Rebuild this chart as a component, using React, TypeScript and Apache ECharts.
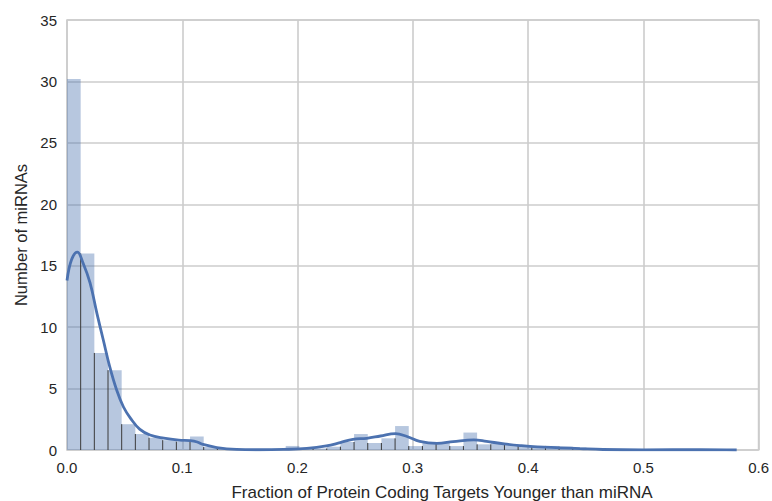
import React, { useEffect, useRef } from "react";
import * as echarts from "echarts";

// Histogram (bin width in data units, heights per bin, starting at 0)
const binWidth = 0.01186;
const binHeights = [
  30.2, 16.0, 7.9, 6.5, 2.1, 1.3, 1.0, 0.8, 0.68, 1.1,
  0.24, 0.14, 0.08, 0, 0, 0, 0.33, 0.12, 0.12, 0.27,
  0.65, 1.3, 0.57, 0.95, 1.95, 0.32, 0.6, 0.6, 0.32, 1.42,
  0.46, 0.6, 0.45, 0.35, 0.33, 0.33, 0.27, 0.22, 0, 0,
  0, 0, 0, 0, 0, 0, 0.06, 0,
];

// KDE curve
const kdeX = [
  0, 0.004, 0.009, 0.014, 0.02, 0.026, 0.0315, 0.037, 0.043, 0.049,
  0.055, 0.063, 0.072, 0.084, 0.097, 0.107, 0.113, 0.118, 0.13, 0.147,
  0.167, 0.188, 0.208, 0.225, 0.237, 0.248, 0.26, 0.272, 0.285, 0.295,
  0.306, 0.321, 0.335, 0.353, 0.364, 0.379, 0.393, 0.408, 0.428, 0.445,
  0.465, 0.5, 0.55, 0.581,
];
const kdeY = [
  13.8, 15.5, 16.1, 15.2, 13.6, 11.1, 8.95, 6.8, 4.9, 3.5,
  2.6, 1.7, 1.22, 0.97, 0.81, 0.76, 0.65, 0.45, 0.2, 0.05,
  0.02, 0.05, 0.13, 0.33, 0.6, 0.87, 0.95, 1.14, 1.33, 1.1,
  0.7, 0.54, 0.68, 0.83, 0.7, 0.5, 0.36, 0.25, 0.18, 0.11,
  0.04, 0.01, 0.03, 0.0,
];

const xTicks = ["0.0", "0.1", "0.2", "0.3", "0.4", "0.5", "0.6"];
const yTicks = ["0", "5", "10", "15", "20", "25", "30", "35"];
const xTitle = "Fraction of Protein Coding Targets Younger than miRNA";
const yTitle = "Number of miRNAs";

const FONT = "'Liberation Sans', Arial, sans-serif";
const BLUE = "#4C72B0";
const TEXT = "#262626";

export default function App() {
  const ref = useRef<HTMLDivElement>(null);
  useEffect(() => {
    if (!ref.current) return;
    const chart = echarts.init(ref.current, null, { renderer: "svg" });
    const histData = binHeights.map((h, i) => [
      i * binWidth,
      (i + 1) * binWidth,
      h,
      i > 0 ? Math.min(h, binHeights[i - 1]) : 0,
    ]);
    chart.setOption({
      animation: false,
      backgroundColor: "#ffffff",
      textStyle: { fontFamily: FONT },
      grid: {
        left: 67,
        right: 12,
        top: 20,
        bottom: 51,
        show: true,
        borderColor: "#cccccc",
        borderWidth: 1.6,
        backgroundColor: "transparent",
      },
      graphic: [
        {
          type: "text",
          x: 442,
          y: 492,
          style: {
            text: xTitle,
            fontSize: 17,
            fill: TEXT,
            fontFamily: FONT,
            align: "center",
            verticalAlign: "middle",
          },
        },
      ],
      xAxis: {
        type: "value",
        min: 0,
        max: 0.6,
        interval: 0.1,
        axisLine: { show: false },
        axisTick: { show: false },
        axisLabel: {
          fontSize: 15,
          color: TEXT,
          margin: 10,
          fontFamily: FONT,
          formatter: (v: number) => xTicks[Math.round(v * 10)] ?? "",
        },
        splitLine: { show: true, lineStyle: { color: "#cccccc", width: 1.6 } },
      },
      yAxis: {
        type: "value",
        min: 0,
        max: 35,
        interval: 5,
        name: yTitle,
        nameLocation: "middle",
        nameGap: 36,
        nameTextStyle: { fontSize: 16.5, color: TEXT, fontFamily: FONT },
        axisLine: { show: false },
        axisTick: { show: false },
        axisLabel: {
          fontSize: 15,
          color: TEXT,
          margin: 10,
          fontFamily: FONT,
          formatter: (v: number) => yTicks[Math.round(v / 5)] ?? "",
        },
        splitLine: { show: true, lineStyle: { color: "#cccccc", width: 1.6 } },
      },
      series: [
        {
          type: "custom",
          data: histData,
          encode: { x: [0, 1], y: 2 },
          z: 2,
          renderItem: (params: any, api: any) => {
            const x0 = api.value(0);
            const x1 = api.value(1);
            const h = api.value(2);
            const e = api.value(3);
            const p0 = api.coord([x0, 0]);
            const p1 = api.coord([x1, h]);
            const children: any[] = [];
            if (h > 0) {
              children.push({
                type: "rect",
                shape: {
                  x: p0[0],
                  y: p1[1],
                  width: p1[0] - p0[0],
                  height: p0[1] - p1[1],
                },
                style: { fill: "rgba(76,114,176,0.4)" },
              });
            }
            if (e > 0) {
              const pe = api.coord([x0, e]);
              children.push({
                type: "line",
                shape: { x1: p0[0], y1: p0[1], x2: p0[0], y2: pe[1] },
                style: { stroke: "#3a3a3a", lineWidth: 1 },
              });
            }
            return { type: "group", children };
          },
        },
        {
          type: "line",
          data: kdeX.map((x, i) => [x, kdeY[i]]),
          smooth: 0.4,
          symbol: "none",
          z: 3,
          lineStyle: { color: BLUE, width: 2.8 },
        },
      ],
    });
    return () => chart.dispose();
  }, []);
  return (
    <div
      ref={ref}
      style={{ position: "fixed", left: 0, top: 0, width: 772, height: 501 }}
    />
  );
}
